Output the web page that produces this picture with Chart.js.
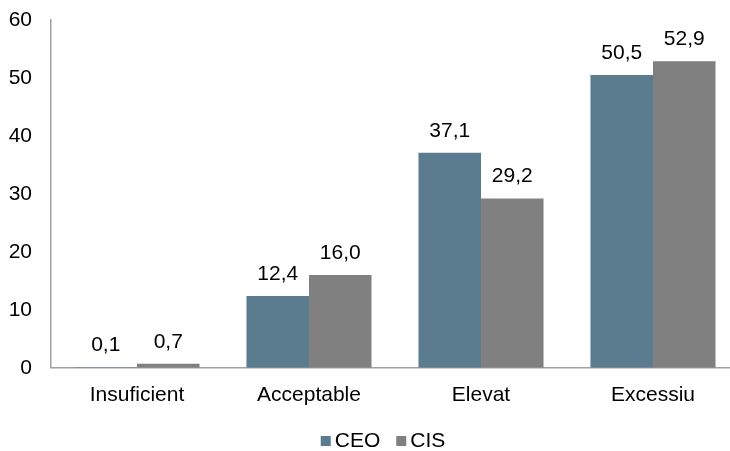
<!DOCTYPE html>
<html>
<head>
<meta charset="utf-8">
<script src="https://cdn.jsdelivr.net/npm/chart.js@4"></script>
<style>
  body { margin: 0; overflow: hidden; background: #fff; }
  #wrap { width: 760px; height: 451px; }
</style>
</head>
<body>
<div id="wrap"><canvas id="chart"></canvas></div>
<script>
const categories = ['Insuficient', 'Acceptable', 'Elevat', 'Excessiu'];
const ceoValues = [0.1, 12.4, 37.1, 50.5];
const cisValues = [0.7, 16.0, 29.2, 52.9];
const seriesNames = ['CEO', 'CIS'];
const seriesColors = ['#5b7b8f', '#808080'];

const FONT = { family: 'Liberation Sans, Arial, sans-serif', size: 21 };

// value labels above each bar, decimal comma
const barLabels = {
    id: 'barLabels',
    afterDatasetsDraw(chart) {
        const ctx = chart.ctx;
        ctx.save();
        ctx.font = FONT.size + 'px ' + FONT.family;
        ctx.fillStyle = '#000';
        ctx.textAlign = 'center';
        ctx.textBaseline = 'middle';
        chart.data.datasets.forEach((ds, i) => {
            chart.getDatasetMeta(i).data.forEach((bar, j) => {
                const txt = ds.data[j].toFixed(1).replace('.', ',');
                ctx.fillText(txt, bar.x, bar.y - 22);
            });
        });
        ctx.restore();
    }
};

// legend drawn by hand to get the tight box/text spacing
const bottomLegend = {
    id: 'bottomLegend',
    afterDraw(chart) {
        const ctx = chart.ctx;
        ctx.save();
        ctx.font = FONT.size + 'px ' + FONT.family;
        ctx.textBaseline = 'middle';
        ctx.textAlign = 'left';
        const widths = seriesNames.map(n => ctx.measureText(n).width);
        const total = widths.reduce((a, w) => a + 14 + w, 0) + 16 * (seriesNames.length - 1);
        let x = 383 - total / 2;
        const y = 441;
        seriesNames.forEach((name, i) => {
            ctx.fillStyle = seriesColors[i];
            ctx.fillRect(x, y - 5, 10, 10);
            ctx.fillStyle = '#000';
            ctx.fillText(name, x + 14, y);
            x += 14 + widths[i] + 16;
        });
        ctx.restore();
    }
};

new Chart(document.getElementById('chart'), {
    type: 'bar',
    data: {
        labels: categories,
        datasets: [
            { label: seriesNames[0], data: ceoValues, backgroundColor: seriesColors[0] },
            { label: seriesNames[1], data: cisValues, backgroundColor: seriesColors[1] }
        ]
    },
    options: {
        responsive: true,
        maintainAspectRatio: false,
        animation: false,
        datasets: { bar: { categoryPercentage: 0.727, barPercentage: 1 } },
        layout: { padding: { top: 20, right: 21, bottom: 28, left: 0 } },
        plugins: { legend: { display: false }, tooltip: { enabled: false } },
        scales: {
            x: {
                grid: { display: false, drawTicks: false },
                border: { color: '#a0a0a0', width: 1.5 },
                ticks: { color: '#000', font: FONT, padding: 15 }
            },
            y: {
                min: 0,
                max: 60,
                grid: { display: false, drawTicks: false },
                border: { color: '#a0a0a0', width: 1.5 },
                ticks: { stepSize: 10, color: '#000', font: FONT, padding: 19 },
                afterFit(scale) {
                    scale.width = 51;
                    scale.paddingTop = 0;
                    scale.paddingBottom = 0;
                }
            }
        }
    },
    plugins: [barLabels, bottomLegend]
});
</script>
</body>
</html>
